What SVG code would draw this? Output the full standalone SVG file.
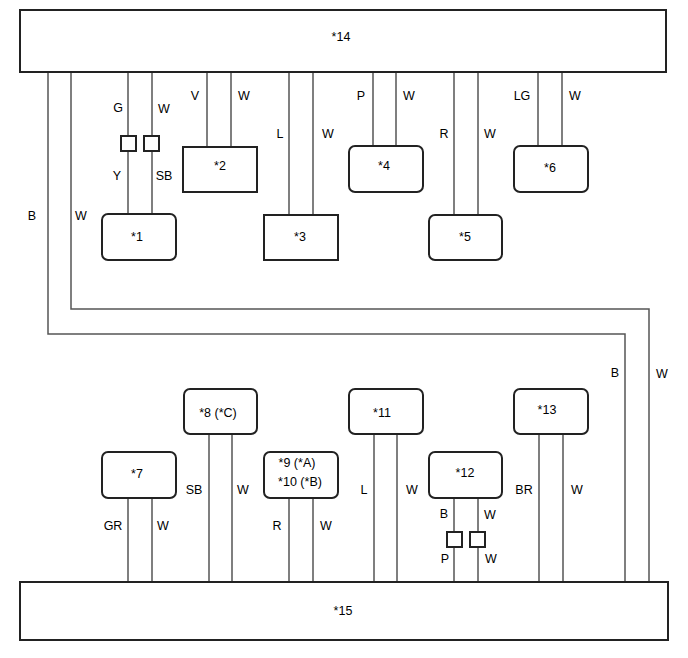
<svg xmlns="http://www.w3.org/2000/svg" width="688" height="658" viewBox="0 0 688 658">
<style>
.box{fill:#fff;stroke:#222;stroke-width:2}
.w{fill:none;stroke:#555;stroke-width:1.5}
.j{fill:#fff;stroke:#222;stroke-width:2}
text{font-family:"Liberation Sans",Arial,sans-serif;font-size:12.5px;fill:#000;text-anchor:middle;dominant-baseline:central}
</style>
<rect width="688" height="658" fill="#fff"/>
<g id="connectors">
<polyline class="w" points="48,72 48,334 625,334 625,582"/>
<polyline class="w" points="71,72 71,309 649,309 649,582"/>
<line class="w" x1="128" y1="72" x2="128" y2="214"/>
<line class="w" x1="152" y1="72" x2="152" y2="214"/>
<line class="w" x1="207" y1="72" x2="207" y2="147"/>
<line class="w" x1="231" y1="72" x2="231" y2="147"/>
<line class="w" x1="289" y1="72" x2="289" y2="215"/>
<line class="w" x1="313" y1="72" x2="313" y2="215"/>
<line class="w" x1="373" y1="72" x2="373" y2="146"/>
<line class="w" x1="396" y1="72" x2="396" y2="146"/>
<line class="w" x1="454" y1="72" x2="454" y2="215"/>
<line class="w" x1="478" y1="72" x2="478" y2="215"/>
<line class="w" x1="538" y1="72" x2="538" y2="146"/>
<line class="w" x1="562" y1="72" x2="562" y2="146"/>
<line class="w" x1="128" y1="498" x2="128" y2="582"/>
<line class="w" x1="152" y1="498" x2="152" y2="582"/>
<line class="w" x1="209" y1="434" x2="209" y2="582"/>
<line class="w" x1="232" y1="434" x2="232" y2="582"/>
<line class="w" x1="289" y1="498" x2="289" y2="582"/>
<line class="w" x1="313" y1="498" x2="313" y2="582"/>
<line class="w" x1="374" y1="434" x2="374" y2="582"/>
<line class="w" x1="397" y1="434" x2="397" y2="582"/>
<line class="w" x1="454" y1="498" x2="454" y2="582"/>
<line class="w" x1="478" y1="498" x2="478" y2="582"/>
<line class="w" x1="539" y1="434" x2="539" y2="582"/>
<line class="w" x1="563" y1="434" x2="563" y2="582"/>
<rect class="j" x="121" y="136" width="15" height="15"/>
<rect class="j" x="144" y="136" width="15" height="15"/>
<rect class="j" x="447" y="532" width="15" height="15"/>
<rect class="j" x="470" y="532" width="15" height="15"/>
<text x="32" y="216">B</text>
<text x="81" y="216">W</text>
<text x="118" y="108">G</text>
<text x="164" y="109">W</text>
<text x="117" y="176">Y</text>
<text x="164" y="176">SB</text>
<text x="195" y="96">V</text>
<text x="244" y="96">W</text>
<text x="280" y="134">L</text>
<text x="328" y="134">W</text>
<text x="361" y="96">P</text>
<text x="409" y="96">W</text>
<text x="444" y="134">R</text>
<text x="490" y="134">W</text>
<text x="522" y="96">LG</text>
<text x="575" y="96">W</text>
<text x="615" y="373">B</text>
<text x="662" y="374">W</text>
<text x="113" y="526">GR</text>
<text x="163" y="526">W</text>
<text x="194" y="490">SB</text>
<text x="243" y="490">W</text>
<text x="277" y="526">R</text>
<text x="326" y="526">W</text>
<text x="364" y="490">L</text>
<text x="412" y="490">W</text>
<text x="444" y="514">B</text>
<text x="490" y="515">W</text>
<text x="445" y="559">P</text>
<text x="491" y="559">W</text>
<text x="524" y="490">BR</text>
<text x="577" y="490">W</text>
</g>
<g id="n14"><rect class="box" x="20" y="10" width="646" height="62"/><text x="341" y="37">*14</text></g>
<g id="n15"><rect class="box" x="20" y="582" width="648" height="58"/><text x="343" y="611">*15</text></g>
<g id="n1"><rect class="box" x="102" y="214" width="74" height="46" rx="6"/><text x="137" y="237">*1</text></g>
<g id="n2"><rect class="box" x="183" y="147" width="74" height="45"/><text x="220" y="166">*2</text></g>
<g id="n3"><rect class="box" x="264" y="215" width="74" height="45"/><text x="300" y="237">*3</text></g>
<g id="n4"><rect class="box" x="349" y="146" width="74" height="46" rx="6"/><text x="384" y="166">*4</text></g>
<g id="n5"><rect class="box" x="429" y="215" width="73" height="45" rx="6"/><text x="465" y="237">*5</text></g>
<g id="n6"><rect class="box" x="514" y="146" width="74" height="46" rx="6"/><text x="550" y="168">*6</text></g>
<g id="n7"><rect class="box" x="102" y="452" width="74" height="46" rx="6"/><text x="137" y="474">*7</text></g>
<g id="n8"><rect class="box" x="184" y="389" width="73" height="45" rx="6"/><text x="218" y="413">*8 (*C)</text></g>
<g id="n9"><rect class="box" x="264" y="452" width="74" height="46" rx="6"/><text x="297" y="463">*9 (*A)</text><text x="300" y="482">*10 (*B)</text></g>
<g id="n11"><rect class="box" x="349" y="389" width="74" height="45" rx="6"/><text x="382" y="413">*11</text></g>
<g id="n12"><rect class="box" x="429" y="452" width="73" height="46" rx="6"/><text x="465" y="473">*12</text></g>
<g id="n13"><rect class="box" x="514" y="389" width="74" height="45" rx="6"/><text x="547" y="410">*13</text></g>
</svg>
